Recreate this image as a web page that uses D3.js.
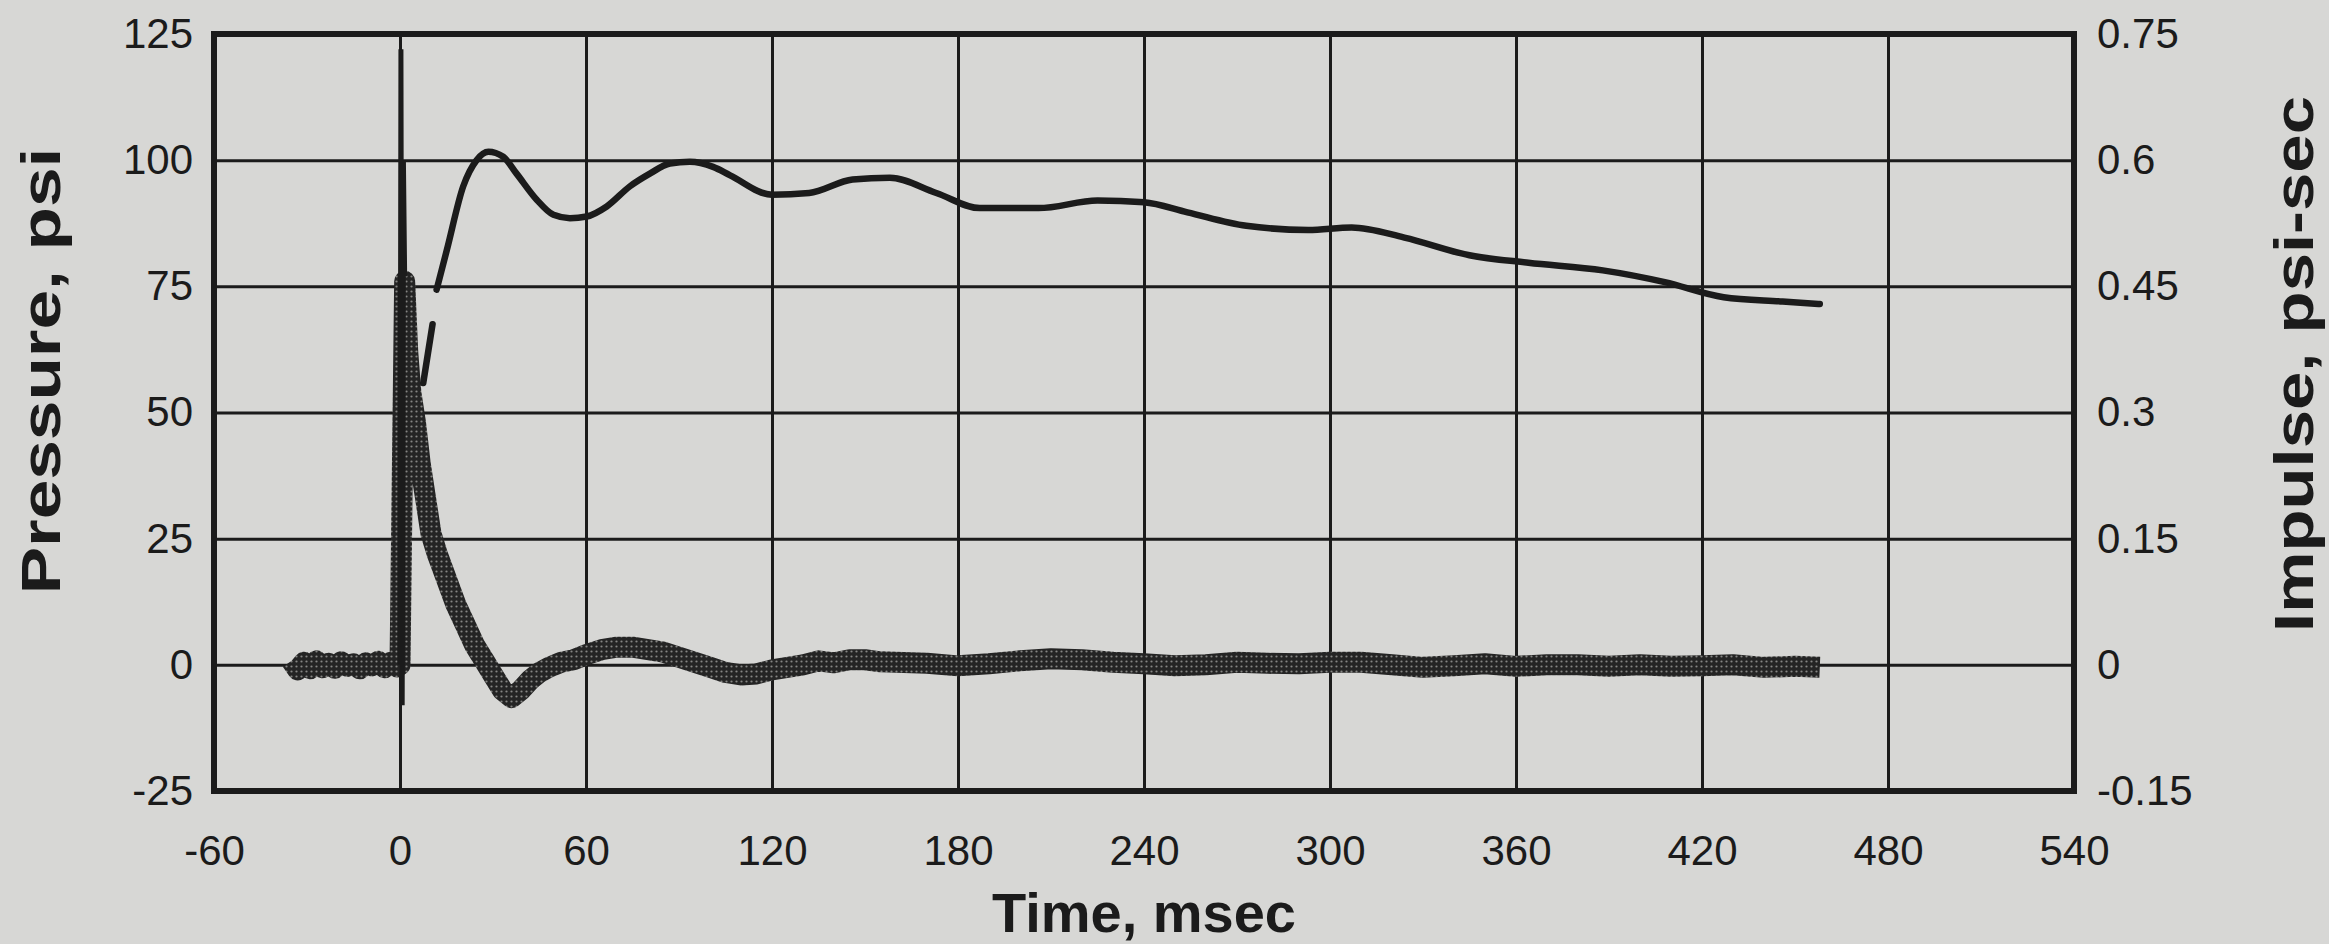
<!DOCTYPE html>
<html>
<head>
<meta charset="utf-8">
<script src="https://cdn.jsdelivr.net/npm/d3@7/dist/d3.min.js"></script>
<style>
  body { margin: 0; background: #d7d7d5; }
  svg { display: block; }
</style>
</head>
<body>
<div class="blast-chart"></div>
<script>

// pressure trace, psi
const pressTime = [-35, -33, -31, -29, -27, -25, -23, -21, -19, -17, -15, -13, -11, -9, -7, -5, -3, -1, 0,
    1.5, 2.5, 3.5, 5, 6.5, 8, 10, 12, 15, 18, 21, 24, 27, 30, 33, 36, 39, 42, 45, 48, 52, 56,
    60, 65, 70, 75, 80, 85, 90, 95, 100, 105, 110, 115, 120, 125, 130, 135, 140, 145, 150, 155, 160, 170, 180,
    190, 200, 210, 220, 230, 240, 250, 260, 270, 280, 290, 300, 310, 320, 330, 340, 350, 360,
    370, 380, 390, 400, 410, 420, 430, 440, 450, 458]
const pressVal = [0.8, -1, 0.5, -0.8, 0.8, -0.6, 0.3, -0.7, 0.6, -0.3, 0.2, -0.8, 0.4, -0.2, 0.7, -0.6, 0.5, -0.4, 0,
    76, 62, 54, 48, 40, 34, 26, 22, 17, 12, 8, 4, 1, -2, -5, -6.5, -5, -3, -1.5, -0.5, 0.5, 1,
    2, 3, 3.5, 3.5, 3, 2.5, 1.5, 0.5, -0.5, -1.5, -2, -1.8, -1, -0.5, 0, 0.8, 0.4, 1, 1, 0.6, 0.5, 0.3, -0.2,
    0.2, 0.8, 1.2, 1, 0.5, 0.2, -0.2, 0, 0.5, 0.3, 0.2, 0.5, 0.5, 0, -0.5, -0.2, 0.2, -0.3,
    0, 0, -0.3, 0, -0.3, -0.2, 0, -0.5, -0.3, -0.5]

// the arrival spike, psi
const spikeTime = [0, 0.3, 0.7, 1.1, 1.5]
const spikeVal = [0, 122, -8, 100, 77]

// impulse, psi-sec (null = gap in the trace)
const impTime = [7.5, 9, 10.5, 11.5, 11.8, 15.1, 20.4, 24.7, 28.5, 33.3, 37.6, 44.1, 49.5, 54.8, 60.2,
    66.7, 74.2, 80.6, 87.1, 93.5, 101, 106.5, 120, 132, 146, 158, 173, 187, 206, 225, 240, 254,
    273, 293, 307, 324, 345, 364, 388, 408, 427, 446, 458]
const impVal = [0.335, 0.37, 0.405, null, 0.446, 0.493, 0.569, 0.600, 0.610, 0.604, 0.584, 0.553, 0.535, 0.531, 0.533,
    0.545, 0.569, 0.584, 0.596, 0.598, 0.592, 0.582, 0.559, 0.561, 0.577, 0.579, 0.561, 0.543, 0.543, 0.552, 0.550, 0.538,
    0.522, 0.517, 0.520, 0.508, 0.487, 0.478, 0.469, 0.455, 0.437, 0.432, 0.429]

const timeTicks = [-60, 0, 60, 120, 180, 240, 300, 360, 420, 480, 540]
const pressTicks = [-25, 0, 25, 50, 75, 100, 125]
const impTicks = [-0.15, 0, 0.15, 0.3, 0.45, 0.6, 0.75]

const font = "Arial, 'Liberation Sans', sans-serif"
const ink = "#1b1b1b"

const margin = ({top: 34, right: 255, bottom: 153, left: 214});
const width = 2329 - margin.left - margin.right;
const height = 944 - margin.top - margin.bottom;

var svg = d3.select('.blast-chart')
    .append("svg")
    .attr("width", width + margin.left + margin.right)
    .attr("height", height + margin.top + margin.bottom)
    .append("g")
    .attr("transform", "translate(" + margin.left + "," + margin.top + ")");

// hatched look of the dense pressure markers
var pat = svg.append("defs").append("pattern")
    .attr("id", "dots")
    .attr("patternUnits", "userSpaceOnUse")
    .attr("width", 5)
    .attr("height", 5)
pat.append("rect").attr("width", 5).attr("height", 5).attr("fill", "#242424")
pat.append("circle").attr("cx", 2.5).attr("cy", 2.5).attr("r", 1.1).attr("fill", "#858583")

var xScale = d3.scaleLinear()
    .domain([-60, 540])
    .range([0, width])

var yPress = d3.scaleLinear()
    .domain([-25, 125])
    .range([height, 0])

var yImp = d3.scaleLinear()
    .domain([-0.15, 0.75])
    .range([height, 0])

// grid
svg.append("g")
    .attr("class", "grid")
    .call(d3.axisBottom(xScale).tickValues(timeTicks).tickSize(height).tickFormat(""))
    .call(g => g.select(".domain").remove())
    .selectAll(".tick line")
    .attr("stroke", ink)
    .attr("stroke-width", 3)

svg.append("g")
    .attr("class", "grid")
    .call(d3.axisRight(yPress).tickValues(pressTicks).tickSize(width).tickFormat(""))
    .call(g => g.select(".domain").remove())
    .selectAll(".tick line")
    .attr("stroke", ink)
    .attr("stroke-width", 3)

// tick labels (plain hyphen for negatives, like the original)
var xAxisGroup = svg.append("g")
    .attr("transform", `translate(0, ${height})`)
    .call(d3.axisBottom(xScale).tickValues(timeTicks).tickSize(0).tickPadding(44).tickFormat(d => String(d)))

var yAxisGroup = svg.append("g")
    .call(d3.axisLeft(yPress).tickValues(pressTicks).tickSize(0).tickPadding(21).tickFormat(d => String(d)))

var y2AxisGroup = svg.append("g")
    .attr("transform", `translate(${width}, 0)`)
    .call(d3.axisRight(yImp).tickValues(impTicks).tickSize(0).tickPadding(23).tickFormat(d => String(d)))

;[xAxisGroup, yAxisGroup, y2AxisGroup].forEach(g => {
    g.select(".domain").remove()
    g.selectAll("text")
        .attr("font-family", font)
        .attr("font-size", 42)
        .attr("fill", ink)
})

var pressData = pressTime.map((t, i) => ({t: t, v: pressVal[i]}))
var spikeData = spikeTime.map((t, i) => ({t: t, v: spikeVal[i]}))
var impData = impTime.map((t, i) => ({t: t, v: impVal[i]}))

// pressure band
const pLine = d3.line()
    .x(d => xScale(d.t))
    .y(d => yPress(d.v))

svg.append("path")
    .datum(pressData)
    .attr("fill", "none")
    .attr("stroke", "url(#dots)")
    .attr("stroke-width", 21)
    .attr("stroke-linejoin", "round")
    .attr("d", pLine)

svg.append("path")
    .datum(spikeData)
    .attr("fill", "none")
    .attr("stroke", ink)
    .attr("stroke-width", 5)
    .attr("d", pLine)

// impulse
const iLine = d3.line()
    .defined(d => d.v != null)
    .curve(d3.curveMonotoneX)
    .x(d => xScale(d.t))
    .y(d => yImp(d.v))

svg.append("path")
    .datum(impData)
    .attr("fill", "none")
    .attr("stroke", ink)
    .attr("stroke-width", 6.5)
    .attr("stroke-linecap", "round")
    .attr("d", iLine)

// frame
svg.append("rect")
    .attr("width", width)
    .attr("height", height)
    .attr("fill", "none")
    .attr("stroke", ink)
    .attr("stroke-width", 6)

// titles
svg.append("text")
    .attr("x", width / 2)
    .attr("y", height + 141)
    .attr("text-anchor", "middle")
    .attr("font-family", font)
    .attr("font-size", 56)
    .attr("font-weight", "bold")
    .attr("fill", ink)
    .text("Time, msec")

// the vertical titles come out stretched along their length in the scan
svg.append("text")
    .attr("transform", `translate(${60 - margin.left}, ${371 - margin.top}) rotate(-90) scale(1.27, 1)`)
    .attr("text-anchor", "middle")
    .attr("font-family", font)
    .attr("font-size", 56)
    .attr("font-weight", "bold")
    .attr("fill", ink)
    .text("Pressure, psi")

svg.append("text")
    .attr("transform", `translate(${2313 - margin.left}, ${364 - margin.top}) rotate(-90) scale(1.23, 1)`)
    .attr("text-anchor", "middle")
    .attr("font-family", font)
    .attr("font-size", 56)
    .attr("font-weight", "bold")
    .attr("fill", ink)
    .text("Impulse, psi-sec")

</script>
</body>
</html>
